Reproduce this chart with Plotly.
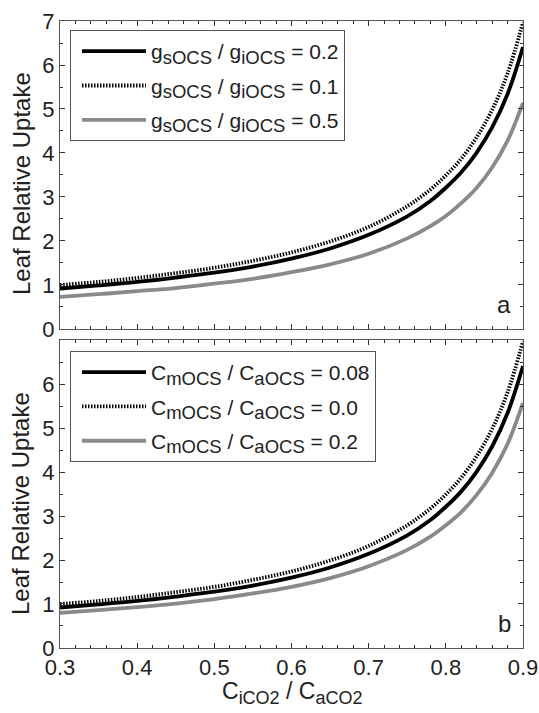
import plotly.graph_objects as go

# x values: C_iCO2 / C_aCO2
ci_ratio = [0.30, 0.35, 0.40, 0.45, 0.50, 0.55, 0.60, 0.65, 0.70, 0.75, 0.78, 0.80, 0.82, 0.84, 0.86, 0.88, 0.90]

# Panel a: gsOCS/giOCS variations
a_gs02 = [0.92, 0.99, 1.07, 1.17, 1.28, 1.42, 1.60, 1.83, 2.14, 2.56, 2.91, 3.21, 3.56, 4.01, 4.58, 5.34, 6.41]
a_gs01 = [1.00, 1.07, 1.16, 1.27, 1.39, 1.55, 1.74, 1.99, 2.32, 2.79, 3.17, 3.49, 3.87, 4.36, 4.98, 5.81, 6.97]
a_gs05 = [0.73, 0.79, 0.86, 0.93, 1.03, 1.14, 1.29, 1.47, 1.71, 2.06, 2.34, 2.57, 2.86, 3.21, 3.67, 4.28, 5.14]

# Panel b: CmOCS/CaOCS variations
b_cm008 = [0.92, 0.99, 1.07, 1.17, 1.28, 1.42, 1.60, 1.83, 2.14, 2.56, 2.91, 3.21, 3.56, 4.01, 4.58, 5.34, 6.41]
b_cm000 = [1.00, 1.07, 1.16, 1.27, 1.39, 1.55, 1.74, 1.99, 2.32, 2.79, 3.17, 3.49, 3.87, 4.36, 4.98, 5.81, 6.97]
b_cm020 = [0.80, 0.86, 0.93, 1.01, 1.11, 1.24, 1.39, 1.59, 1.86, 2.23, 2.53, 2.79, 3.09, 3.48, 3.98, 4.64, 5.57]

SUB = '<sub><span style="font-size:18.5px">{}</span></sub>'
a_labels = ["g" + SUB.format("sOCS") + " / g" + SUB.format("iOCS") + " = 0.2",
            "g" + SUB.format("sOCS") + " / g" + SUB.format("iOCS") + " = 0.1",
            "g" + SUB.format("sOCS") + " / g" + SUB.format("iOCS") + " = 0.5"]
b_labels = ["C" + SUB.format("mOCS") + " / C" + SUB.format("aOCS") + " = 0.08",
            "C" + SUB.format("mOCS") + " / C" + SUB.format("aOCS") + " = 0.0",
            "C" + SUB.format("mOCS") + " / C" + SUB.format("aOCS") + " = 0.2"]

y_ticks_a = [0, 1, 2, 3, 4, 5, 6, 7]
y_ticks_b = [0, 1, 2, 3, 4, 5, 6]
x_ticks = [0.3, 0.4, 0.5, 0.6, 0.7, 0.8, 0.9]

y_title = "Leaf Relative Uptake"
x_title = 'C<sub><span style="font-size:18px">iCO2</span></sub> / C<sub><span style="font-size:18px">aCO2</span></sub>'

FONT = "Liberation Sans, Arial, sans-serif"
TXT = "#222222"
BLACK = "#000000"
GRAY = "#8a8a8a"
styles = [dict(color=BLACK, width=3.8),
          dict(color=BLACK, width=3.8, dash="1.5px,1.5px"),
          dict(color=GRAY, width=3.8)]

fig = go.Figure()
for i, (ys, name) in enumerate(zip([a_gs02, a_gs01, a_gs05], a_labels)):
    fig.add_trace(go.Scatter(x=ci_ratio, y=ys, mode="lines", name=name,
                             line=dict(shape="spline", **styles[i]),
                             xaxis="x", yaxis="y", legend="legend",
                             legendgroup=f"a{i}"))
for i, (ys, name) in enumerate(zip([b_cm008, b_cm000, b_cm020], b_labels)):
    fig.add_trace(go.Scatter(x=ci_ratio, y=ys, mode="lines", name=name,
                             line=dict(shape="spline", **styles[i]),
                             xaxis="x2", yaxis="y2", legend="legend2",
                             legendgroup=f"b{i}"))

axis_common = dict(showline=True, linecolor="#555555", linewidth=1, mirror="ticks",
                   ticks="inside", ticklen=5, tickcolor="#333333", tickwidth=1,
                   showgrid=False, zeroline=False, automargin=False,
                   tickfont=dict(family=FONT, size=22, color=TXT))

yminor = dict(dtick=0.5, ticks="inside", ticklen=3, tickcolor="#333333", showgrid=False)
xminor = dict(dtick=0.02, tick0=0.3, ticks="inside", ticklen=3, tickcolor="#333333", showgrid=False)

legend_common = dict(bgcolor="white", bordercolor="#555555", borderwidth=1,
                     font=dict(family=FONT, size=21, color=TXT),
                     xanchor="left", yanchor="top", x=0.0216,
                     itemwidth=64, tracegroupgap=4, indentation=6)

fig.update_layout(
    width=539, height=713,
    margin=dict(l=60, r=16, t=21, b=65),
    paper_bgcolor="white", plot_bgcolor="white",
    showlegend=True,
    xaxis=dict(axis_common, range=[0.3, 0.9], tickvals=x_ticks, minor=xminor,
               domain=[0, 1], anchor="y", showticklabels=False, matches="x2"),
    yaxis=dict(axis_common, range=[0, 7], tickvals=y_ticks_a, minor=yminor,
               domain=[0.5088, 1.0], anchor="x"),
    xaxis2=dict(axis_common, range=[0.3, 0.9], tickvals=x_ticks, minor=xminor,
                domain=[0, 1], anchor="y2"),
    yaxis2=dict(axis_common, range=[0, 7], tickvals=y_ticks_b, minor=yminor,
                domain=[0, 0.4912], anchor="x2"),
    legend=dict(legend_common, y=0.9856),
    legend2=dict(legend_common, y=0.4737),
    annotations=[
        dict(text="a", xref="x domain", yref="y domain", x=0.9785, y=0.03,
             xanchor="right", yanchor="bottom", showarrow=False,
             font=dict(family=FONT, size=24, color=TXT)),
        dict(text="b", xref="x2 domain", yref="y2 domain", x=0.9785, y=0.03,
             xanchor="right", yanchor="bottom", showarrow=False,
             font=dict(family=FONT, size=24, color=TXT)),
        dict(text=y_title, xref="paper", yref="paper", x=-0.0842, y=0.740,
             xanchor="center", yanchor="middle", textangle=-90, showarrow=False,
             font=dict(family=FONT, size=24, color=TXT)),
        dict(text=y_title, xref="paper", yref="paper", x=-0.0842, y=0.2297,
             xanchor="center", yanchor="middle", textangle=-90, showarrow=False,
             font=dict(family=FONT, size=24, color=TXT)),
        dict(text=x_title, xref="paper", yref="paper", x=0.5, y=-0.044,
             xanchor="center", yanchor="top", showarrow=False,
             font=dict(family=FONT, size=23, color=TXT)),
    ],
)

# remove the default page margin so the 539x713 figure fills the window exactly
fig.write_html("out.html", config={"displayModeBar": False},
               post_script="document.body.style.margin='0px';document.body.style.overflow='hidden';")
